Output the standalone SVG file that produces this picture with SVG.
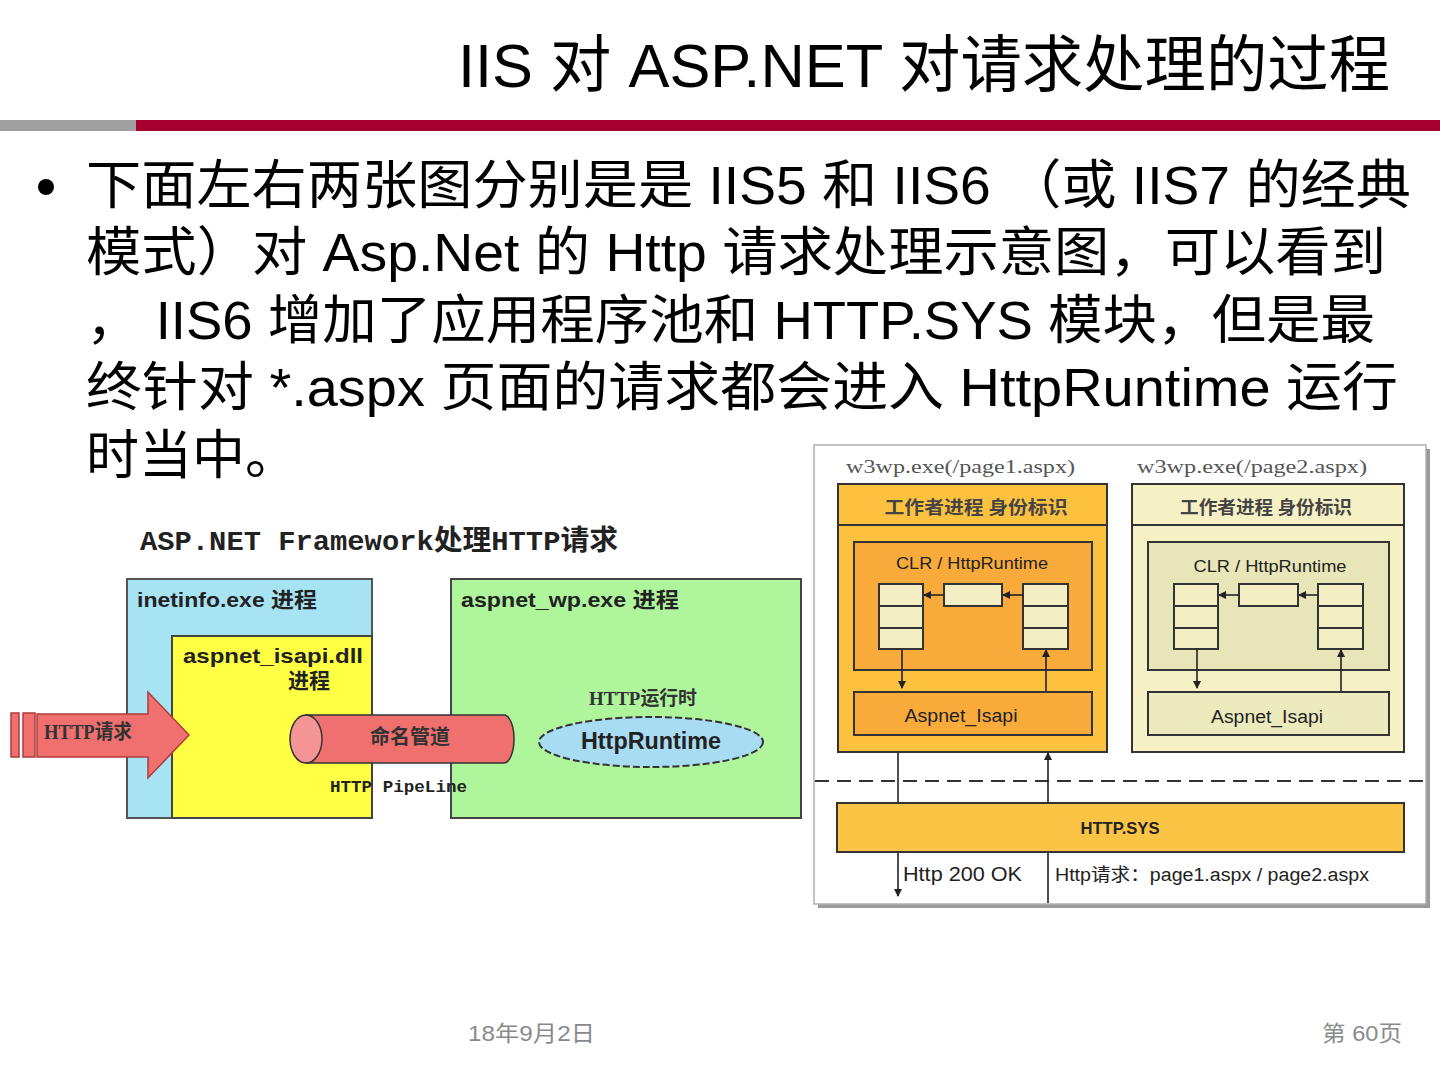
<svg xmlns="http://www.w3.org/2000/svg" width="1440" height="1080" viewBox="0 0 1440 1080">
<defs>
<style>
.body{font-family:"Liberation Sans","Noto Sans CJK SC",sans-serif;font-size:53px;fill:#000}
.lbl{font-family:"Liberation Sans","Noto Sans CJK SC",sans-serif;fill:#222}
.ser{font-family:"Liberation Serif","Noto Sans CJK SC",serif;fill:#555}
.mono{font-family:"Liberation Mono","Noto Sans CJK SC",monospace;font-weight:bold;fill:#222}
.cjk{font-family:"Noto Sans CJK SC",sans-serif;fill:#444}
.box{stroke:#333;stroke-width:2}
.cell{fill:#f4eec4;stroke:#333;stroke-width:2}
.ln{stroke:#222;stroke-width:1.6;fill:none}
.foot{font-family:"Liberation Sans","Noto Sans CJK SC",sans-serif;font-size:22px;fill:#8a8a8a}
</style>
<marker id="ah" markerWidth="8" markerHeight="8" refX="7" refY="4" orient="auto" markerUnits="userSpaceOnUse"><path d="M0,0 L8,4 L0,8 z" fill="#222"/></marker>
</defs>
<rect width="1440" height="1080" fill="#fff"/>

<g id="title">
<text x="458" y="87" font-family="Liberation Sans, Noto Sans CJK SC, sans-serif" font-size="62" textLength="932" lengthAdjust="spacingAndGlyphs" fill="#000">IIS 对 ASP.NET 对请求处理的过程</text>
<rect x="0" y="120" width="136" height="11" fill="#a0a0a0"/>
<rect x="136" y="120" width="1304" height="11" fill="#a5002f"/>
</g>

<g id="bullet-text">
<circle cx="46" cy="187" r="8" fill="#000"/>
<text class="body" x="86" y="204" textLength="1325" lengthAdjust="spacingAndGlyphs">下面左右两张图分别是是 IIS5 和 IIS6 （或 IIS7 的经典</text>
<text class="body" x="86" y="271" textLength="1300" lengthAdjust="spacingAndGlyphs">模式）对 Asp.Net 的 Http 请求处理示意图，可以看到</text>
<text class="body" x="86" y="339" textLength="1289" lengthAdjust="spacingAndGlyphs">， IIS6 增加了应用程序池和 HTTP.SYS 模块，但是最</text>
<text class="body" x="86" y="406" textLength="1312" lengthAdjust="spacingAndGlyphs">终针对 *.aspx 页面的请求都会进入 HttpRuntime 运行</text>
<text class="body" x="86" y="474">时当中。</text>
</g>

<!-- Left diagram: IIS5 -->
<g id="left-title">
<text class="mono" x="140" y="550" font-size="28" textLength="478" lengthAdjust="spacingAndGlyphs" fill="#333">ASP.NET Framework处理HTTP请求</text>
</g>
<g id="inetinfo">
<rect x="127" y="579" width="245" height="239" fill="#a6e3f3" stroke="#555" stroke-width="2"/>
<text class="lbl" x="137" y="607" font-size="21" font-weight="bold" textLength="180" lengthAdjust="spacingAndGlyphs">inetinfo.exe 进程</text>
</g>
<g id="isapi">
<rect x="172" y="636" width="200" height="182" fill="#ffff44" stroke="#444" stroke-width="2"/>
<text class="lbl" x="183" y="663" font-size="21" font-weight="bold" textLength="180" lengthAdjust="spacingAndGlyphs">aspnet_isapi.dll</text>
<text class="lbl" x="288" y="688" font-size="21" font-weight="bold">进程</text>
</g>
<g id="aspnet_wp">
<rect x="451" y="579" width="350" height="239" fill="#aef59c" stroke="#444" stroke-width="2"/>
<text class="lbl" x="461" y="607" font-size="21" font-weight="bold" textLength="218" lengthAdjust="spacingAndGlyphs">aspnet_wp.exe 进程</text>
</g>
<g id="http-request">
<rect x="11" y="713" width="8" height="44" fill="#f07070" stroke="#b03a3a" stroke-width="1.5"/>
<rect x="23" y="713" width="12" height="44" fill="#f07070" stroke="#b03a3a" stroke-width="1.5"/>
<path d="M37,714 L148,714 L148,692 L189,735 L148,778 L148,757 L37,757 Z" fill="#f07070" stroke="#b03a3a" stroke-width="1.5"/>
<text x="44" y="739" font-family="Liberation Serif, Noto Sans CJK SC, serif" font-size="20" font-weight="bold" fill="#333" textLength="88" lengthAdjust="spacingAndGlyphs">HTTP请求</text>
</g>
<g id="pipe">
<path d="M306,715 L504,715 A10,24 0 0 1 504,763 L306,763 Z" fill="#f07070" stroke="#333" stroke-width="1.5"/>
<ellipse cx="306" cy="739" rx="16" ry="24" fill="#f49494" stroke="#333" stroke-width="1.5"/>
<text x="410" y="744" text-anchor="middle" font-family="Noto Sans CJK SC, sans-serif" font-size="20" font-weight="bold" fill="#333">命名管道</text>
<text class="mono" x="330" y="792" font-size="17" textLength="137" lengthAdjust="spacingAndGlyphs">HTTP PipeLine</text>
</g>
<g id="httpruntime">
<text x="643" y="705" text-anchor="middle" font-family="Liberation Serif, Noto Sans CJK SC, serif" font-size="19" font-weight="bold" fill="#333" textLength="108" lengthAdjust="spacingAndGlyphs">HTTP运行时</text>
<ellipse cx="651" cy="742" rx="112" ry="25" fill="#a8dcf2" stroke="#333" stroke-width="2" stroke-dasharray="7 3"/>
<text class="lbl" x="651" y="749" text-anchor="middle" font-size="23" font-weight="bold" fill="#333" textLength="140" lengthAdjust="spacingAndGlyphs">HttpRuntime</text>
</g>

<!-- Right diagram: IIS6 -->
<g id="frame">
<rect x="818" y="449" width="612" height="459" fill="#9a9a9a"/>
<rect x="814" y="445" width="612" height="459" fill="#fff" stroke="#b0b0b0" stroke-width="1.5"/>
<line x1="815" y1="781" x2="1425" y2="781" stroke="#333" stroke-width="2" stroke-dasharray="14 8"/>
</g>

<g id="connectors">
<line class="ln" x1="898" y1="752" x2="898" y2="896" marker-end="url(#ah)"/>
<line class="ln" x1="1048" y1="903" x2="1048" y2="753" marker-end="url(#ah)"/>
</g>

<g id="w3wp1">
<text class="ser" x="846" y="473" font-size="19" textLength="229" lengthAdjust="spacingAndGlyphs">w3wp.exe(/page1.aspx)</text>
<rect class="box" x="838" y="484" width="269" height="268" fill="#fcc13f"/>
<line x1="838" y1="525" x2="1107" y2="525" stroke="#333" stroke-width="2"/>
<text class="cjk" x="976" y="514" text-anchor="middle" font-size="18" font-weight="bold" textLength="183" lengthAdjust="spacingAndGlyphs">工作者进程 身份标识</text>
<rect class="box" x="854" y="542" width="238" height="128" fill="#f8ab3b"/>
<text class="lbl" x="972" y="569" text-anchor="middle" font-size="17" textLength="152" lengthAdjust="spacingAndGlyphs" fill="#333">CLR / HttpRuntime</text>
<rect class="cell" x="879" y="584" width="44" height="22"/>
<rect class="cell" x="879" y="606" width="44" height="22"/>
<rect class="cell" x="879" y="628" width="44" height="21"/>
<rect class="cell" x="944" y="584" width="58" height="22"/>
<rect class="cell" x="1023" y="584" width="45" height="22"/>
<rect class="cell" x="1023" y="606" width="45" height="22"/>
<rect class="cell" x="1023" y="628" width="45" height="21"/>
<line class="ln" x1="1023" y1="595" x2="1003" y2="595" marker-end="url(#ah)"/>
<line class="ln" x1="944" y1="595" x2="924" y2="595" marker-end="url(#ah)"/>
<line class="ln" x1="902" y1="649" x2="902" y2="688" marker-end="url(#ah)"/>
<line class="ln" x1="1046" y1="692" x2="1046" y2="650" marker-end="url(#ah)"/>
<rect class="box" x="854" y="692" width="238" height="43" fill="#f8ab3b"/>
<text class="lbl" x="961" y="722" text-anchor="middle" font-size="18" textLength="113" lengthAdjust="spacingAndGlyphs" fill="#333">Aspnet_Isapi</text>
</g>

<g id="w3wp2">
<text class="ser" x="1137" y="473" font-size="19" textLength="230" lengthAdjust="spacingAndGlyphs">w3wp.exe(/page2.aspx)</text>
<rect class="box" x="1132" y="484" width="272" height="268" fill="#f6f1c4"/>
<line x1="1132" y1="525" x2="1404" y2="525" stroke="#333" stroke-width="2"/>
<text class="cjk" x="1266" y="514" text-anchor="middle" font-size="18" font-weight="bold" textLength="172" lengthAdjust="spacingAndGlyphs">工作者进程 身份标识</text>
<rect class="box" x="1148" y="542" width="241" height="128" fill="#e8e6b8"/>
<text class="lbl" x="1270" y="572" text-anchor="middle" font-size="17" textLength="153" lengthAdjust="spacingAndGlyphs" fill="#333">CLR / HttpRuntime</text>
<rect class="cell" x="1174" y="584" width="44" height="22"/>
<rect class="cell" x="1174" y="606" width="44" height="22"/>
<rect class="cell" x="1174" y="628" width="44" height="21"/>
<rect class="cell" x="1239" y="584" width="59" height="22"/>
<rect class="cell" x="1318" y="584" width="45" height="22"/>
<rect class="cell" x="1318" y="606" width="45" height="22"/>
<rect class="cell" x="1318" y="628" width="45" height="21"/>
<line class="ln" x1="1318" y1="595" x2="1299" y2="595" marker-end="url(#ah)"/>
<line class="ln" x1="1239" y1="595" x2="1219" y2="595" marker-end="url(#ah)"/>
<line class="ln" x1="1197" y1="649" x2="1197" y2="688" marker-end="url(#ah)"/>
<line class="ln" x1="1341" y1="692" x2="1341" y2="650" marker-end="url(#ah)"/>
<rect class="box" x="1148" y="692" width="241" height="43" fill="#ecebbd"/>
<text class="lbl" x="1267" y="723" text-anchor="middle" font-size="18" textLength="112" lengthAdjust="spacingAndGlyphs" fill="#333">Aspnet_Isapi</text>
</g>

<g id="httpsys">
<rect class="box" x="837" y="803" width="567" height="49" fill="#fbc444"/>
<text class="lbl" x="1120" y="834" text-anchor="middle" font-size="17" font-weight="bold" textLength="79" lengthAdjust="spacingAndGlyphs" fill="#222">HTTP.SYS</text>
</g>

<g id="bottom-labels">
<text class="lbl" x="903" y="881" font-size="20" textLength="119" lengthAdjust="spacingAndGlyphs" fill="#333">Http 200 OK</text>
<text class="lbl" x="1055" y="881" font-size="18" textLength="314" lengthAdjust="spacingAndGlyphs" fill="#444">Http请求：page1.aspx / page2.aspx</text>
</g>

<g id="footer">
<text class="foot" x="468" y="1041" textLength="127" lengthAdjust="spacingAndGlyphs">18年9月2日</text>
<text class="foot" x="1322" y="1041" textLength="80" lengthAdjust="spacingAndGlyphs">第 60页</text>
</g>
</svg>
